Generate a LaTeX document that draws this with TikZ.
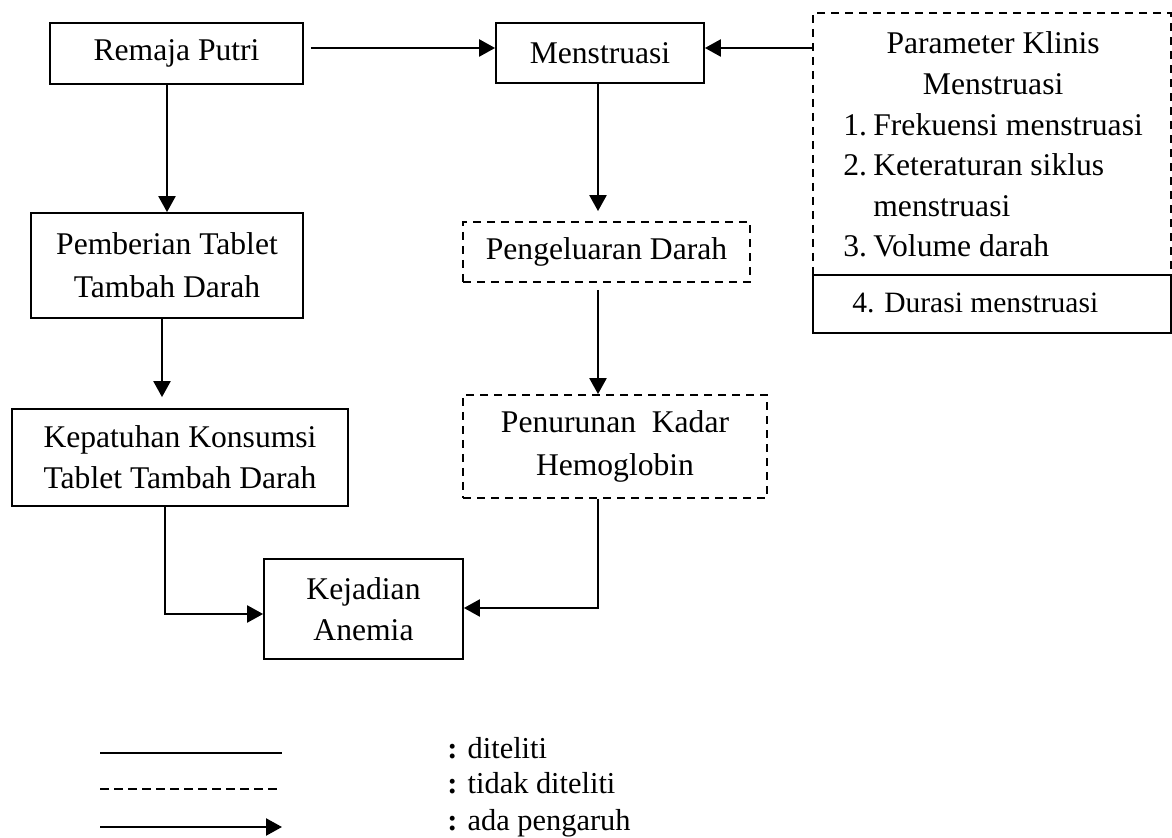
\documentclass[tikz,border=0pt]{standalone}
\usepackage{fontspec}
\setmainfont{Liberation Serif}
\usetikzlibrary{arrows.meta}
\newcommand\mainfs{\fontsize{15.8}{20.5}\selectfont}
\newcommand\durfs{\fontsize{14.75}{18}\selectfont}
\newcommand\legfs{\fontsize{15.2}{18}\selectfont}
\begin{document}
\begin{tikzpicture}[x=0.5pt,y=-0.5pt,
  solidbox/.style={draw, line width=0.9pt, inner sep=0pt, align=center, font=\mainfs},
  dashbox/.style={solidbox, dash pattern=on 4pt off 3pt},
  conn/.style={line width=1.2pt},
  arr/.style={conn, -{Triangle[length=8pt,width=8.5pt]}},
  plain/.style={anchor=base west, inner sep=0pt}
]
\useasboundingbox (0,0) rectangle (1172,838);

% boxes
\node[solidbox, minimum width=126.5pt, minimum height=30.5pt] (remaja) at (176.5,53.5) {Remaja Putri};
\node[solidbox, minimum width=104pt, minimum height=30pt] (menstruasi) at (600,53) {Menstruasi};
\node[solidbox, minimum width=136pt, minimum height=52.5pt, font={\fontsize{15.8}{21.5}\selectfont}] (pemberian) at (167,265.5) {Pemberian Tablet\\Tambah Darah};
\node[solidbox, minimum width=168pt, minimum height=48.5pt] (kepatuhan) at (180,457.5) {Kepatuhan Konsumsi\\Tablet Tambah Darah};
\node[dashbox, minimum width=143.5pt, minimum height=30pt] (pengeluaran) at (606.5,252) {Pengeluaran Darah};
\node[dashbox, minimum width=152pt, minimum height=51.5pt, font={\fontsize{15.8}{21.5}\selectfont}] (penurunan) at (615,446.5) {Penurunan~~Kadar\\Hemoglobin};
\node[solidbox, minimum width=99.5pt, minimum height=50pt] (kejadian) at (363.5,609) {Kejadian\\Anemia};

% parameter box
\node[dashbox, minimum width=179pt, minimum height=131pt] (param) at (992,144) {};
\node[plain, font={\fontsize{15.8}{20.3}\selectfont}] (paramtext) at (843,54)
  {\begin{tabular}[t]{@{}p{15pt}@{}l@{}}
   \multicolumn{2}{c}{Parameter Klinis}\\
   \multicolumn{2}{c}{Menstruasi}\\
   1.&Frekuensi menstruasi\\
   2.&Keteraturan siklus\\
   &menstruasi\\
   3.&Volume darah
   \end{tabular}};
\node[solidbox, minimum width=179pt, minimum height=29pt] (durasi) at (992,304) {};
\node[plain, font=\durfs] (durasitext) at (852,313) {4. Durasi menstruasi};

% helper coordinates
\coordinate (xa) at (167,0);
\coordinate (xb) at (162,0);
\coordinate (xc) at (165,0);
\coordinate (xm) at (598,0);
\coordinate (ya) at (0,48);
\coordinate (yl) at (0,614);
\coordinate (yr) at (0,608);

% connectors
\draw[arr, shorten <=3.5pt] (remaja.east |- ya) -- (menstruasi.west |- ya);
\draw[arr] (param.west |- ya) -- (menstruasi.east |- ya);
\draw[arr] (remaja.south -| xa) -- (pemberian.north -| xa);
\draw[arr, shorten >=5.5pt] (pemberian.south -| xb) -- (kepatuhan.north -| xb);
\draw[arr] (kepatuhan.south -| xc) -- (xc |- yl) -- (kejadian.west |- yl);
\draw[arr, shorten >=5pt] (menstruasi.south -| xm) -- (pengeluaran.north -| xm);
\draw[arr, shorten <=3.5pt] (pengeluaran.south -| xm) -- (penurunan.north -| xm);
\draw[arr] (penurunan.south -| xm) -- (xm |- yr) -- (kejadian.east |- yr);

% legend
\coordinate (l1a) at (100,753);
\coordinate (l1b) at (282,753);
\coordinate (l2a) at (100,789);
\coordinate (l2b) at (282,789);
\coordinate (l3a) at (100,827);
\coordinate (l3b) at (282,827);
\draw[conn] (l1a) -- (l1b);
\draw[line width=0.8pt, dash pattern=on 4.5pt off 2.5pt] (l2a) -- (l2b);
\draw[arr] (l3a) -- (l3b);
\node[plain, font=\legfs] (t1) at (447,758) {\textbf{:} diteliti};
\node[plain, font=\legfs] (t2) at (447,793) {\textbf{:} tidak diteliti};
\node[plain, font=\legfs] (t3) at (447,830) {\textbf{:} ada pengaruh};
\end{tikzpicture}
\end{document}
